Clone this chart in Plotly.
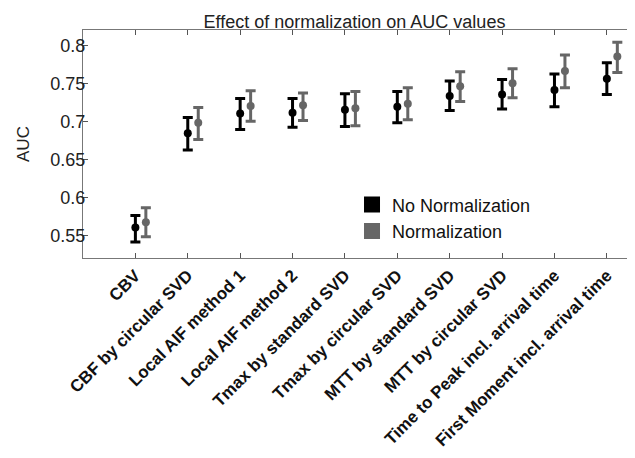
import plotly.graph_objects as go

categories = ["CBV", "CBF by circular SVD", "Local AIF method 1", "Local AIF method 2",
              "Tmax by standard SVD", "Tmax by circular SVD", "MTT by standard SVD",
              "MTT by circular SVD", "Time to Peak incl. arrival time",
              "First Moment incl. arrival time"]

no_norm = [0.560, 0.684, 0.710, 0.711, 0.715, 0.719, 0.733, 0.735, 0.741, 0.756]
no_norm_hi = [0.576, 0.705, 0.730, 0.730, 0.736, 0.739, 0.753, 0.755, 0.762, 0.777]
no_norm_lo = [0.541, 0.662, 0.689, 0.692, 0.693, 0.698, 0.714, 0.716, 0.719, 0.735]

norm = [0.567, 0.698, 0.720, 0.721, 0.717, 0.723, 0.746, 0.750, 0.766, 0.785]
norm_hi = [0.586, 0.718, 0.740, 0.737, 0.739, 0.744, 0.765, 0.769, 0.787, 0.804]
norm_lo = [0.548, 0.676, 0.700, 0.701, 0.694, 0.702, 0.726, 0.731, 0.744, 0.764]

y_ticks = [0.55, 0.6, 0.65, 0.7, 0.75, 0.8]
y_ticklabels = ["0.55", "0.6", "0.65", "0.7", "0.75", "0.8"]

BLACK = "#000000"
GRAY = "#666666"

pos = list(range(1, len(categories) + 1))
offset = 0.2

fig = go.Figure()


def add_series(xs, ys, hi, lo, color, name):
    fig.add_trace(go.Scatter(
        x=xs, y=ys, mode="markers",
        marker=dict(color=color, size=8, symbol="circle"),
        error_y=dict(type="data", symmetric=False,
                     array=[h - v for h, v in zip(hi, ys)],
                     arrayminus=[v - l for v, l in zip(ys, lo)],
                     color=color, thickness=3, width=5),
        showlegend=False, name=name, hoverinfo="skip"))
    fig.add_trace(go.Scatter(
        x=[None], y=[None], mode="markers", name=name,
        marker=dict(color=color, size=20, symbol="square"),
        showlegend=True))


add_series(pos, no_norm, no_norm_hi, no_norm_lo, BLACK, "No Normalization")
add_series([p + offset for p in pos], norm, norm_hi, norm_lo, GRAY, "Normalization")

font_family = "Liberation Sans, Arial, sans-serif"

# the page body adds an 8px offset, so the figure is 8px smaller on each side
fig.update_layout(
    width=627, height=450,
    margin=dict(l=75, r=3, t=22, b=200),
    paper_bgcolor="white", plot_bgcolor="white",
    font=dict(family=font_family, size=17, color="#222222"),
    title=dict(text="Effect of normalization on AUC values",
               x=0.5526, xanchor="center", y=0.97, yanchor="middle",
               font=dict(size=18, color="#222222")),
    showlegend=True,
    legend=dict(x=0.49, y=0.314, xanchor="left", yanchor="top",
                bgcolor="rgba(0,0,0,0)", borderwidth=0,
                font=dict(size=18, color="#111111"),
                itemsizing="trace", tracegroupgap=0, itemwidth=30),
    xaxis=dict(range=[0, 10.48], tickmode="array", tickvals=pos,
               ticktext=["<b>%s</b>" % c for c in categories],
               tickangle=-45, ticks="inside", ticklen=5,
               tickcolor="#555555", showline=True, linecolor="#777777",
               linewidth=1, mirror="ticks", showgrid=False, zeroline=False,
               automargin=False,
               tickfont=dict(size=17, color="#111111")),
    yaxis=dict(range=[0.52, 0.82], tickmode="array", tickvals=y_ticks,
               ticktext=y_ticklabels, ticks="inside", ticklen=5,
               tickcolor="#555555", showline=True, linecolor="#777777",
               linewidth=1, mirror="ticks", showgrid=False, zeroline=False,
               automargin=False, ticklabelstandoff=-7,
               title=dict(text="AUC", standoff=16, font=dict(size=17)),
               tickfont=dict(size=18, color="#222222")),
)

fig.write_html("out.html")
